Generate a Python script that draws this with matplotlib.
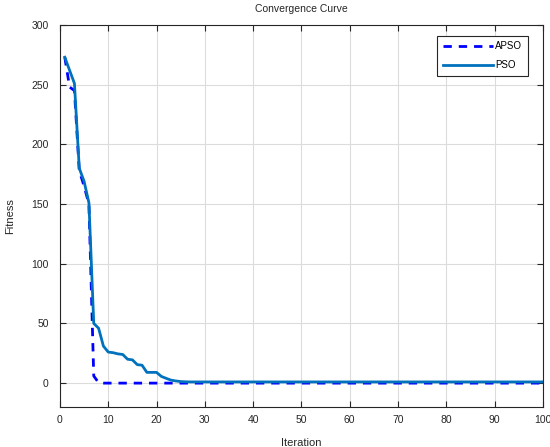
import matplotlib
matplotlib.use("Agg")
import matplotlib.pyplot as plt

plt.rcParams['font.family'] = ['Liberation Sans', 'DejaVu Sans']

iterations = list(range(1, 101))
apso = [273, 248, 245, 178, 165, 150, 6, 0.3, 0, 0,
        0, 0, 0, 0, 0, 0, 0, 0, 0, 0,
        0, 0, 0, 0, 0, 0, 0, 0, 0, 0,
        0, 0, 0, 0, 0, 0, 0, 0, 0, 0,
        0, 0, 0, 0, 0, 0, 0, 0, 0, 0,
        0, 0, 0, 0, 0, 0, 0, 0, 0, 0,
        0, 0, 0, 0, 0, 0, 0, 0, 0, 0,
        0, 0, 0, 0, 0, 0, 0, 0, 0, 0,
        0, 0, 0, 0, 0, 0, 0, 0, 0, 0,
        0, 0, 0, 0, 0, 0, 0, 0, 0, 0]
pso = [273, 262, 251, 180, 169, 151, 50, 46, 31, 26,
       25.5, 24.5, 24, 20, 19.5, 15.5, 15, 9, 9, 9,
       5.6, 4, 2.5, 1.8, 1.3, 1.1, 1.0, 1.0, 1.0, 1.0,
       1.0, 1.0, 1.0, 1.0, 1.0, 1.0, 1.0, 1.0, 1.0, 1.0,
       1.0, 1.0, 1.0, 1.0, 1.0, 1.0, 1.0, 1.0, 1.0, 1.0,
       1.0, 1.0, 1.0, 1.0, 1.0, 1.0, 1.0, 1.0, 1.0, 1.0,
       1.0, 1.0, 1.0, 1.0, 1.0, 1.0, 1.0, 1.0, 1.0, 1.0,
       1.0, 1.0, 1.0, 1.0, 1.0, 1.0, 1.0, 1.0, 1.0, 1.0,
       1.0, 1.0, 1.0, 1.0, 1.0, 1.0, 1.0, 1.0, 1.0, 1.0,
       1.0, 1.0, 1.0, 1.0, 1.0, 1.0, 1.0, 1.0, 1.0, 1.0]
xticks = list(range(0, 101, 10))
yticks = list(range(0, 301, 50))

fig = plt.figure(figsize=(5.5, 4.47), dpi=100)
ax = fig.add_axes([0.109, 0.0895, 0.878, 0.8546])

ax.plot(iterations, apso, linestyle='--', color='#0000FF', linewidth=2, label='APSO',
        dashes=(3, 2.5))
ax.plot(iterations, pso, linestyle='-', color='#0072BD', linewidth=2, label='PSO')

ax.set_xlim(0, 100)
ax.set_ylim(-20, 300)
ax.set_xticks(xticks)
ax.set_yticks(yticks)
ax.tick_params(direction='in', top=True, right=True, labelsize=7.5, length=4,
               colors='#262626', pad=6)
ax.tick_params(axis='y', pad=8)
ax.grid(True, color='#DCDCDC', linewidth=0.8)
ax.set_axisbelow(True)
for s in ax.spines.values():
    s.set_color('#262626')
    s.set_linewidth(0.8)

ax.set_title('Convergence Curve', fontsize=7.5, color='#262626', pad=9)
ax.set_xlabel('Iteration', fontsize=8, color='#262626', labelpad=9)
ax.set_ylabel('Fitness', fontsize=8, color='#262626', labelpad=12)

leg = ax.legend(loc='upper right', bbox_to_anchor=(0.975, 0.98), fontsize=7,
                handlelength=5.2, handletextpad=0.2, fancybox=False,
                framealpha=1, edgecolor='#262626', borderpad=0.6, labelspacing=0.9,
                borderaxespad=0.3)
leg.get_frame().set_linewidth(0.8)

fig.savefig('out.png', dpi=100)
